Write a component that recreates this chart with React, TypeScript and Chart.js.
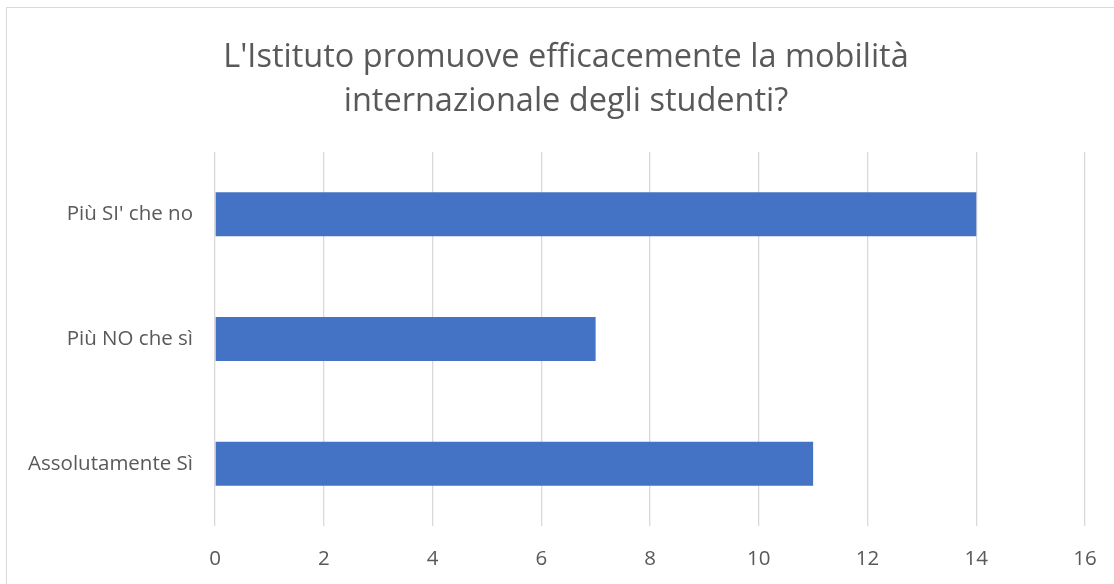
import React, { useEffect, useRef } from "react";
import { Chart, registerables } from "chart.js";

Chart.register(...registerables);

const categories = ["Più SI' che no", "Più NO che sì", "Assolutamente Sì"];
const values = [14, 7, 11];
const titleLines = ["L'Istituto promuove efficacemente la mobilità", "internazionale degli studenti?"];

const titlePlugin = {
  id: "centeredTitle",
  afterDraw(chart: any) {
    const c = chart.ctx;
    c.save();
    c.fillStyle = "#595959";
    c.font = "32.5px 'Open Sans'";
    c.textAlign = "center";
    c.textBaseline = "middle";
    titleLines.forEach((line, i) => {
      c.fillText(line, 566, 58 + i * 44);
    });
    c.restore();
  },
};

export default function App() {
  const ref = useRef<HTMLCanvasElement>(null);
  useEffect(() => {
    document.body.style.margin = "0";
    const ctx = ref.current!;
    const chart = new Chart(ctx, {
      type: "bar",
      data: {
        labels: categories,
        datasets: [
          {
            data: values,
            backgroundColor: "#4472c4",
            borderWidth: 0,
            categoryPercentage: 1,
            barPercentage: 0.353,
          },
        ],
      },
      options: {
        indexAxis: "y",
        animation: false,
        responsive: false,
        layout: { padding: { left: 0, right: 29, top: 152, bottom: 0 } },
        plugins: {
          legend: { display: false },
          tooltip: { enabled: false },
          title: { display: false },
        },
        scales: {
          x: {
            min: 0,
            max: 16,
            ticks: {
              stepSize: 2,
              color: "#595959",
              font: { family: "'Open Sans'", size: 20.5 },
              padding: 21,
            },
            grid: { color: "#d9d9d9", lineWidth: 1.3, drawTicks: false },
            border: { display: false },
            afterFit: (s: any) => {
              s.height = 58;
              s.paddingLeft = 0;
              s.paddingRight = 0;
            },
          },
          y: {
            ticks: {
              color: "#595959",
              font: { family: "'Open Sans'", size: 20.5 },
              padding: 22,
            },
            grid: { display: false, drawTicks: false },
            border: { display: false },
            afterFit: (s: any) => {
              s.width = 215;
              s.paddingTop = 0;
              s.paddingBottom = 0;
            },
          },
        },
      },
      plugins: [titlePlugin],
    });
    return () => chart.destroy();
  }, []);
  return (
    <div style={{ position: "relative", width: 1114, height: 584, background: "#fff" }}>
      <div
        style={{
          position: "absolute",
          left: 6,
          top: 7,
          right: -10,
          bottom: -10,
          borderLeft: "1.5px solid #d9d9d9",
          borderTop: "1.5px solid #d9d9d9",
        }}
      />
      <canvas ref={ref} width={1114} height={584} style={{ position: "absolute", left: 0, top: 0 }} />
    </div>
  );
}
